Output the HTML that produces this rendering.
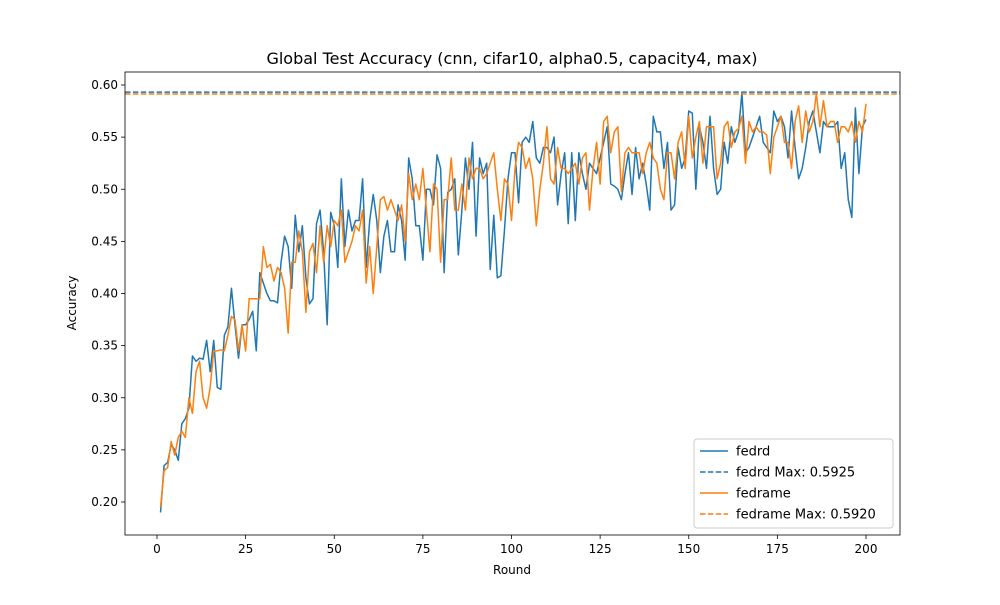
<!DOCTYPE html>
<html><head><meta charset="utf-8"><style>
body{margin:0;background:#fff;font-family:"Liberation Sans","DejaVu Sans",sans-serif;}
svg text{font-family:"DejaVu Sans","Liberation Sans",sans-serif;}
</style></head><body>
<svg id="chart" width="1000" height="600" xmlns="http://www.w3.org/2000/svg"></svg>
<script>
const rounds = Array.from({length:200},(_, i)=>i+1);
const fedrd = [0.19,0.235,0.238,0.255,0.25,0.24,0.275,0.28,0.29,0.34,0.335,0.338,0.337,0.355,0.325,0.355,0.31,0.308,0.36,0.368,
0.405,0.37,0.338,0.37,0.37,0.375,0.383,0.345,0.42,0.41,0.40,0.393,0.393,0.391,0.43,0.455,0.445,0.405,0.475,0.44,
0.465,0.415,0.39,0.395,0.467,0.48,0.44,0.37,0.478,0.465,0.425,0.51,0.445,0.48,0.46,0.47,0.47,0.51,0.425,0.47,
0.495,0.47,0.42,0.455,0.47,0.44,0.44,0.485,0.47,0.432,0.53,0.51,0.465,0.465,0.432,0.50,0.50,0.485,0.533,0.52,
0.42,0.497,0.50,0.51,0.437,0.48,0.53,0.50,0.545,0.455,0.53,0.515,0.525,0.423,0.475,0.415,0.417,0.46,0.51,0.535,
0.535,0.487,0.545,0.55,0.545,0.565,0.53,0.525,0.54,0.54,0.535,0.55,0.485,0.515,0.535,0.467,0.535,0.47,0.535,0.515,
0.5,0.525,0.52,0.515,0.53,0.545,0.56,0.505,0.503,0.5,0.49,0.515,0.535,0.495,0.54,0.51,0.525,0.505,0.48,0.57,
0.555,0.555,0.52,0.545,0.48,0.485,0.54,0.52,0.53,0.575,0.573,0.50,0.56,0.545,0.52,0.57,0.52,0.495,0.50,0.545,
0.525,0.56,0.545,0.555,0.5925,0.535,0.54,0.55,0.56,0.57,0.545,0.54,0.535,0.575,0.565,0.57,0.56,0.53,0.575,0.54,
0.51,0.52,0.54,0.565,0.575,0.555,0.535,0.565,0.56,0.56,0.56,0.565,0.52,0.535,0.49,0.473,0.578,0.515,0.56,0.567];
const fedrame = [0.195,0.23,0.233,0.258,0.245,0.262,0.268,0.262,0.30,0.285,0.325,0.335,0.30,0.29,0.31,0.345,0.345,0.346,0.345,0.36,
0.378,0.375,0.345,0.37,0.345,0.395,0.395,0.395,0.395,0.445,0.425,0.428,0.412,0.425,0.42,0.405,0.362,0.43,0.43,0.46,
0.44,0.382,0.44,0.448,0.42,0.465,0.43,0.465,0.445,0.47,0.465,0.48,0.43,0.44,0.45,0.465,0.46,0.48,0.41,0.445,
0.40,0.445,0.49,0.493,0.48,0.49,0.48,0.47,0.485,0.45,0.515,0.49,0.505,0.49,0.52,0.48,0.44,0.505,0.50,0.43,
0.49,0.49,0.53,0.48,0.48,0.505,0.48,0.53,0.51,0.52,0.52,0.51,0.515,0.525,0.535,0.50,0.47,0.51,0.505,0.47,
0.52,0.545,0.54,0.52,0.53,0.51,0.465,0.50,0.525,0.56,0.51,0.505,0.54,0.52,0.52,0.515,0.52,0.525,0.505,0.53,
0.535,0.48,0.52,0.545,0.505,0.565,0.57,0.535,0.555,0.56,0.498,0.535,0.54,0.535,0.535,0.535,0.515,0.535,0.545,0.53,
0.525,0.5,0.49,0.535,0.535,0.51,0.545,0.555,0.52,0.57,0.53,0.55,0.565,0.525,0.56,0.56,0.56,0.51,0.525,0.56,
0.565,0.54,0.555,0.558,0.57,0.525,0.565,0.555,0.56,0.555,0.555,0.552,0.515,0.55,0.56,0.57,0.545,0.545,0.52,0.565,
0.58,0.545,0.575,0.555,0.565,0.592,0.56,0.585,0.56,0.565,0.565,0.545,0.56,0.56,0.555,0.565,0.545,0.565,0.555,0.582];
const xTicks = [0,25,50,75,100,125,150,175,200];
const yTicks = [0.20,0.25,0.30,0.35,0.40,0.45,0.50,0.55,0.60];

const NS='http://www.w3.org/2000/svg';
const svg=document.getElementById('chart');
const L=125,R=900,T=72,B=535;
const xs=v=>157+v*(866-157)/200;
const ys=v=>502-(v-0.20)*(502-85)/0.40;
function mk(tag,attrs,parent){const e=document.createElementNS(NS,tag);for(const k in attrs)e.setAttribute(k,attrs[k]);(parent||svg).appendChild(e);return e;}
function txt(s,attrs){const e=mk('text',attrs);e.textContent=s;return e;}

const title=txt('Global Test Accuracy (cnn, cifar10, alpha0.5, capacity4, max)',{x:512,y:64,'text-anchor':'middle','font-size':16,fill:'#000'});



xTicks.forEach(t=>{const x=xs(t);
 const l=mk('line',{x1:x,x2:x,y1:B,y2:B+4,stroke:'#000','stroke-width':0.8});
 
 
 const e=txt(String(t),{x:x,y:B+18,'text-anchor':'middle','font-size':12});
 
 
});
yTicks.forEach(t=>{const y=ys(t);
 const l=mk('line',{x1:L-4,x2:L,y1:y,y2:y,stroke:'#000','stroke-width':0.8});
 
 
 const e=txt(t.toFixed(2),{x:L-7,y:y+4,'text-anchor':'end','font-size':12});
 
 
});
const xl=txt('Round',{x:512,y:574,'text-anchor':'middle','font-size':12});


const yl=txt('Accuracy',{x:76,y:303,'text-anchor':'middle','font-size':12,transform:'rotate(-90 76 303)'});



function series(vals,color,name){
 const d=vals.map((v,i)=>(i?'L':'M')+xs(rounds[i]).toFixed(2)+' '+ys(v).toFixed(2)).join(' ');
 const p=mk('path',{d:d,fill:'none',stroke:color,'stroke-width':1.5,'stroke-linejoin':'round'});
 
 
 return Math.max(...vals);
}
const m1=series(fedrd,'#1f77b4','fedrd');
const m2=series(fedrame,'#ff7f0e','fedrame');
const h1=mk('line',{x1:L,x2:R,y1:ys(m1)-0.7,y2:ys(m1)-0.7,stroke:'#1f77b4','stroke-width':1.5,'stroke-dasharray':'5.5 2.4'});


const h2=mk('line',{x1:L,x2:R,y1:ys(m2)+0.7,y2:ys(m2)+0.7,stroke:'#ff7f0e','stroke-width':1.5,'stroke-dasharray':'5.5 2.4'});



const frame=mk('rect',{x:L,y:T,width:R-L,height:B-T,fill:'none',stroke:'#000','stroke-width':0.8});



const lg=mk('g',{});


mk('rect',{x:694,y:439,width:199,height:89,rx:3,fill:'#fff','fill-opacity':0.8,stroke:'#ccc'},lg);
const items=[['fedrd','#1f77b4',false],['fedrd Max: '+m1.toFixed(4),'#1f77b4',true],['fedrame','#ff7f0e',false],['fedrame Max: '+m2.toFixed(4),'#ff7f0e',true]];
items.forEach((it,i)=>{const y=451+i*21;
 const l=mk('line',{x1:700,x2:728,y1:y,y2:y,stroke:it[1],'stroke-width':1.5},lg);
 if(it[2])l.setAttribute('stroke-dasharray','5.5 2.4');
 const t=mk('text',{x:736,y:y+4.5,'font-size':13},lg);t.textContent=it[0];
 
 
});
</script>
</body></html>
